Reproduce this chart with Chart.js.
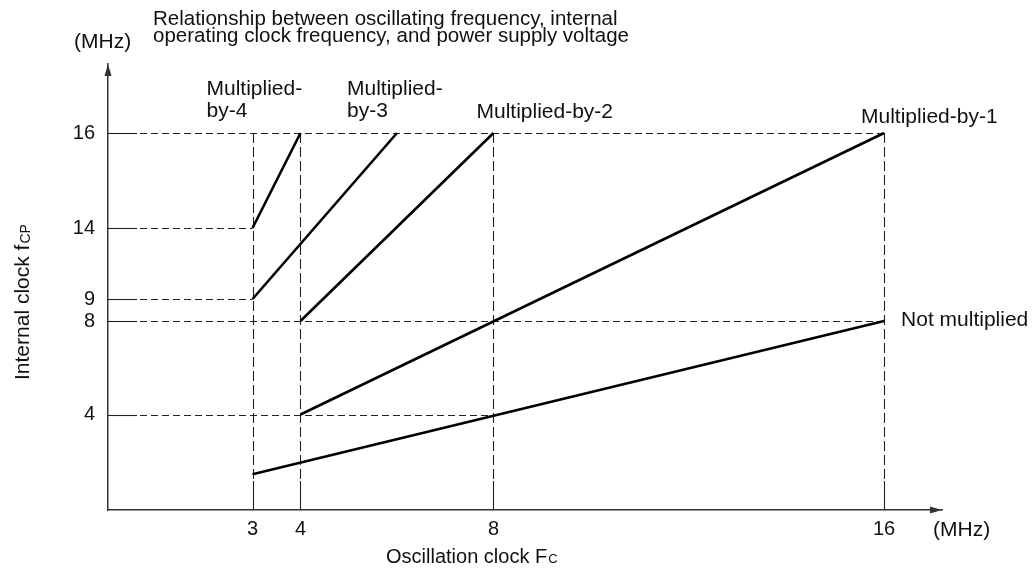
<!DOCTYPE html>
<html>
<head>
<meta charset="utf-8">
<title>Oscillation clock vs internal clock</title>
<style>
  html, body { margin: 0; padding: 0; background: #ffffff; }
  #wrap { width: 1035px; height: 568px; position: relative; }
</style>
<script src="https://cdn.jsdelivr.net/npm/chart.js@4.4.1/dist/chart.umd.min.js"></script>
</head>
<body>
<div id="wrap"><canvas id="chart" width="1035" height="568"></canvas></div>
<script>
// Tick values on each axis (MHz)
const fcTicks = [3, 4, 8, 16];
const fcpTicks = [4, 8, 9, 14, 16];

// Series: oscillation clock Fc -> internal clock fcp
const seriesNames = ['Not multiplied', 'Multiplied-by-1', 'Multiplied-by-2', 'Multiplied-by-3', 'Multiplied-by-4'];
const notMultipliedFc = [3, 16];
const notMultipliedFcp = [1.5, 8];
const by1Fc = [4, 16];
const by1Fcp = [4, 16];
const by2Fc = [4, 8];
const by2Fcp = [8, 16];
const by3Fc = [3, 6];
const by3Fcp = [9, 16];
const by4Fc = [3, 4];
const by4Fcp = [14, 16];

// Reference guides: horizontal from the fcp axis out to an Fc value,
// vertical from the Fc axis up to an fcp value
const hGuideFcp = [16, 14, 9, 8, 4];
const hGuideToFc = [16, 3, 3, 16, 8];
const vGuideFc = [3, 4, 8, 16];
const vGuideToFcp = [16, 16, 16, 16];

const FONT = '"Liberation Sans", Arial, Helvetica, sans-serif';

// A linear scale whose spacing is piecewise: each break value sits at a fixed
// fraction of the axis length, values in between are interpolated.
class PiecewiseScale extends Chart.LinearScale {
  getPixelForValue(value) {
    const vs = this.options.breakValues, ps = this.options.breakPositions;
    let i = 0;
    while (i < vs.length - 2 && value > vs[i + 1]) i++;
    const t = (value - vs[i]) / (vs[i + 1] - vs[i]);
    return this.getPixelForDecimal(ps[i] + t * (ps[i + 1] - ps[i]));
  }
  getValueForPixel(pixel) {
    const vs = this.options.breakValues, ps = this.options.breakPositions;
    const d = this.getDecimalForPixel(pixel);
    let i = 0;
    while (i < ps.length - 2 && d > ps[i + 1]) i++;
    const t = (d - ps[i]) / (ps[i + 1] - ps[i]);
    return vs[i] + t * (vs[i + 1] - vs[i]);
  }
}
PiecewiseScale.id = 'piecewise';
PiecewiseScale.defaults = {};
Chart.register(PiecewiseScale);

function pairs(xs, ys) { return xs.map((x, i) => ({ x: x, y: ys[i] })); }

const seriesData = [
  pairs(notMultipliedFc, notMultipliedFcp),
  pairs(by1Fc, by1Fcp),
  pairs(by2Fc, by2Fcp),
  pairs(by3Fc, by3Fcp),
  pairs(by4Fc, by4Fcp)
];

// Where each series name sits relative to the last point of its line
const labelPlacement = [
  { lines: ['Not multiplied'], dx: 17, dy: 5 },
  { lines: ['Multiplied-by-1'], dx: -23, dy: -10 },
  { lines: ['Multiplied-by-2'], dx: -17, dy: -15 },
  { lines: ['Multiplied-', 'by-3'], dx: -50, dy: -38 },
  { lines: ['Multiplied-', 'by-4'], dx: -94, dy: -38 }
];

function strokeSeg(ctx, x1, y1, x2, y2) {
  ctx.beginPath(); ctx.moveTo(x1, y1); ctx.lineTo(x2, y2); ctx.stroke();
}

const guidePlugin = {
  id: 'guides',
  beforeDatasetsDraw(chart) {
    const { ctx, chartArea, scales } = chart;
    const xs = scales.x, ys = scales.y;
    const solid = 29;
    ctx.save();
    ctx.strokeStyle = '#222';
    ctx.lineWidth = 1.1;
    hGuideFcp.forEach((v, i) => {
      const py = Math.round(ys.getPixelForValue(v)) + 0.5;
      const xEnd = xs.getPixelForValue(hGuideToFc[i]);
      const x0 = chartArea.left;
      ctx.setLineDash([]);
      strokeSeg(ctx, x0, py, x0 + solid, py);
      ctx.setLineDash([7, 4]);
      strokeSeg(ctx, x0 + solid + 3, py, xEnd, py);
    });
    vGuideFc.forEach((v, i) => {
      const px = Math.round(xs.getPixelForValue(v)) + 0.5;
      const yTop = ys.getPixelForValue(vGuideToFcp[i]);
      const y0 = chartArea.bottom;
      ctx.setLineDash([]);
      strokeSeg(ctx, px, y0, px, y0 - solid);
      ctx.setLineDash([10, 4]);
      strokeSeg(ctx, px, yTop, px, y0 - solid);
    });
    ctx.restore();
  },
  afterDraw(chart) {
    const { ctx, chartArea } = chart;
    ctx.save();
    ctx.fillStyle = '#333';
    // axis arrowheads
    ctx.beginPath();
    ctx.moveTo(chartArea.left, chartArea.top);
    ctx.lineTo(chartArea.left - 3.5, chartArea.top + 12);
    ctx.lineTo(chartArea.left + 3.5, chartArea.top + 12);
    ctx.closePath(); ctx.fill();
    ctx.beginPath();
    ctx.moveTo(chartArea.right, chartArea.bottom);
    ctx.lineTo(chartArea.right - 12, chartArea.bottom - 3.5);
    ctx.lineTo(chartArea.right - 12, chartArea.bottom + 3.5);
    ctx.closePath(); ctx.fill();

    ctx.fillStyle = '#111';
    ctx.textBaseline = 'alphabetic';
    ctx.textAlign = 'left';

    // heading
    ctx.font = '20.5px ' + FONT;
    ctx.fillText('Relationship between oscillating frequency, internal', 153, 25);
    ctx.fillText('operating clock frequency, and power supply voltage', 153, 42);

    // units
    ctx.font = '21px ' + FONT;
    ctx.fillText('(MHz)', 74, 48);
    ctx.fillText('(MHz)', 933, 536);

    // x axis title with subscript
    ctx.font = '20px ' + FONT;
    const xt = 'Oscillation clock F';
    ctx.fillText(xt, 386, 563);
    const xw = ctx.measureText(xt).width;
    ctx.font = '13px ' + FONT;
    ctx.fillText('C', 386 + xw + 1, 563);

    // y axis title, rotated, with subscript
    ctx.save();
    ctx.translate(29, 380);
    ctx.rotate(-Math.PI / 2);
    ctx.font = '21px ' + FONT;
    const yt = 'Internal clock f';
    ctx.fillText(yt, 0, 0);
    const yw = ctx.measureText(yt).width;
    ctx.font = '14px ' + FONT;
    ctx.fillText('CP', yw + 1, 1);
    ctx.restore();

    // series names next to their lines
    ctx.font = '21px ' + FONT;
    chart.data.datasets.forEach((ds, i) => {
      const meta = chart.getDatasetMeta(i);
      const last = meta.data[meta.data.length - 1];
      const p = labelPlacement[i];
      p.lines.forEach((line, k) => {
        ctx.fillText(line, last.x + p.dx, last.y + p.dy + k * 22);
      });
    });
    ctx.restore();
  }
};

new Chart(document.getElementById('chart'), {
  type: 'line',
  data: {
    datasets: seriesData.map((d, i) => ({
      label: seriesNames[i],
      data: d,
      borderColor: '#000',
      borderWidth: 2.6,
      pointRadius: 0,
      tension: 0,
      fill: false
    }))
  },
  options: {
    responsive: false,
    animation: false,
    layout: { padding: { top: 64, right: 93, left: 0, bottom: 0 } },
    plugins: {
      legend: { display: false },
      tooltip: { enabled: false },
      title: { display: false }
    },
    scales: {
      x: {
        type: 'piecewise',
        position: 'bottom',
        min: 0,
        max: 17.2,
        breakValues: [0, 3, 4, 8, 16, 17.2],
        breakPositions: [0, 0.1733, 0.2308, 0.4622, 0.9305, 1],
        grid: { display: false, drawTicks: false },
        border: { display: true, color: '#333', width: 1.5 },
        afterBuildTicks: (s) => { s.ticks = fcTicks.map(v => ({ value: v })); },
        afterFit: (s) => { s.height = 58; },
        ticks: {
          autoSkip: false, maxRotation: 0, minRotation: 0, padding: 7,
          color: '#111', font: { family: FONT, size: 20 },
          callback: (v) => String(v)
        }
      },
      y: {
        type: 'piecewise',
        position: 'left',
        min: 0,
        max: 17.5,
        breakValues: [0, 4, 8, 9, 14, 16, 17.5],
        breakPositions: [0, 0.2141, 0.4238, 0.4731, 0.6323, 0.8453, 1],
        grid: { display: false, drawTicks: false },
        border: { display: true, color: '#333', width: 1.5 },
        afterBuildTicks: (s) => { s.ticks = fcpTicks.map(v => ({ value: v })); },
        afterFit: (s) => { s.width = 108; },
        ticks: {
          autoSkip: false, padding: 13,
          color: '#111', font: { family: FONT, size: 20 },
          callback: (v) => String(v)
        }
      }
    }
  },
  plugins: [guidePlugin]
});
</script>
</body>
</html>
